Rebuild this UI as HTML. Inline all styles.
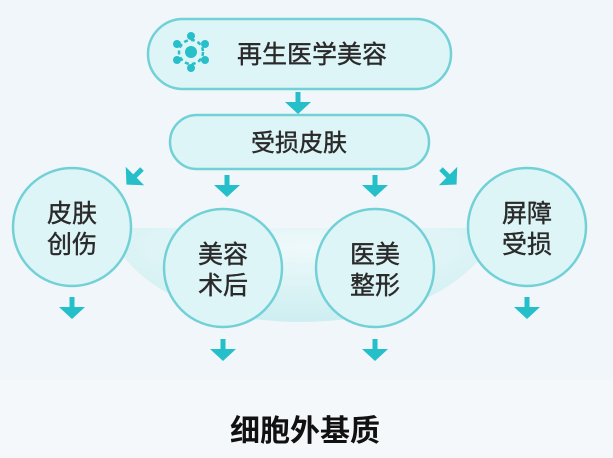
<!DOCTYPE html>
<html><head><meta charset="utf-8"><style>
html,body{margin:0;padding:0;}
body{width:613px;height:458px;overflow:hidden;background:#f3f7fa;font-family:"Liberation Sans","Noto Sans CJK SC",sans-serif;}
</style></head><body>
<svg width="613" height="458" viewBox="0 0 613 458" xmlns="http://www.w3.org/2000/svg" style="position:absolute;left:0;top:0">
<defs>
<radialGradient id="bowl" cx="50%" cy="20%" r="80%">
<stop offset="0" stop-color="#eef9fa"/><stop offset="1" stop-color="#cdeef1"/>
</radialGradient>
<g id="da"><rect x="-2.5" y="0" width="5" height="12" fill="#24bfc9"/><path d="M-13,10 L13,10 L0,22 Z" fill="#24bfc9"/></g>
</defs>
<rect width="613" height="380" fill="#f0f6f9"/>
<rect y="380" width="613" height="78" fill="#f5f8fb"/>
<path d="M105,228 Q150,320 300,322 Q455,320 500,228 Z" fill="url(#bowl)"/>
<g fill="#def5f7" stroke="#72d1d7" stroke-width="2.5">
<rect x="148" y="19" width="303" height="70" rx="35"/>
<rect x="170" y="115" width="259" height="54" rx="27"/>
<circle cx="72" cy="227" r="59"/>
<circle cx="223" cy="268" r="59"/>
<circle cx="375" cy="268" r="59"/>
<circle cx="527" cy="227" r="59"/>
</g>
<g fill="#27bfc9" stroke="#27bfc9">
<circle cx="191" cy="52" r="6" stroke="none"/>
<circle cx="191" cy="52" r="12" fill="none" stroke-width="2.5" stroke-dasharray="4 3"/>
<circle cx="191" cy="36" r="4" stroke="none"/><circle cx="191" cy="68" r="4" stroke="none"/>
<circle cx="177" cy="44" r="4" stroke="none"/><circle cx="205" cy="44" r="4" stroke="none"/>
<circle cx="177" cy="60" r="4" stroke="none"/><circle cx="205" cy="60" r="4" stroke="none"/>
</g>
<use href="#da" x="298" y="92"/>
<use href="#da" x="227" y="175"/>
<use href="#da" x="375" y="175"/>
<use href="#da" x="72" y="297"/>
<use href="#da" x="527" y="297"/>
<use href="#da" x="223" y="339"/>
<use href="#da" x="375" y="339"/>
<use href="#da" transform="translate(142,169) rotate(45)"/>
<use href="#da" transform="translate(441,169) rotate(-45)"/>
<g fill="#2a2a2a" font-family="Liberation Sans, Noto Sans CJK SC, sans-serif" font-size="25" text-anchor="middle" stroke="#2a2a2a" stroke-width="0.4">
<text x="312" y="63">再生医学美容</text>
<text x="299" y="151" font-size="24">受损皮肤</text>
<text x="72" y="222">皮肤</text><text x="72" y="253">创伤</text>
<text x="223" y="263">美容</text><text x="223" y="294">术后</text>
<text x="375" y="263">医美</text><text x="375" y="294">整形</text>
<text x="527" y="222">屏障</text><text x="527" y="253">受损</text>
</g>
<text x="305" y="441" font-size="30" font-weight="bold" text-anchor="middle" fill="#111" font-family="Liberation Sans, Noto Sans CJK SC, sans-serif">细胞外基质</text>
</svg>
</body></html>
